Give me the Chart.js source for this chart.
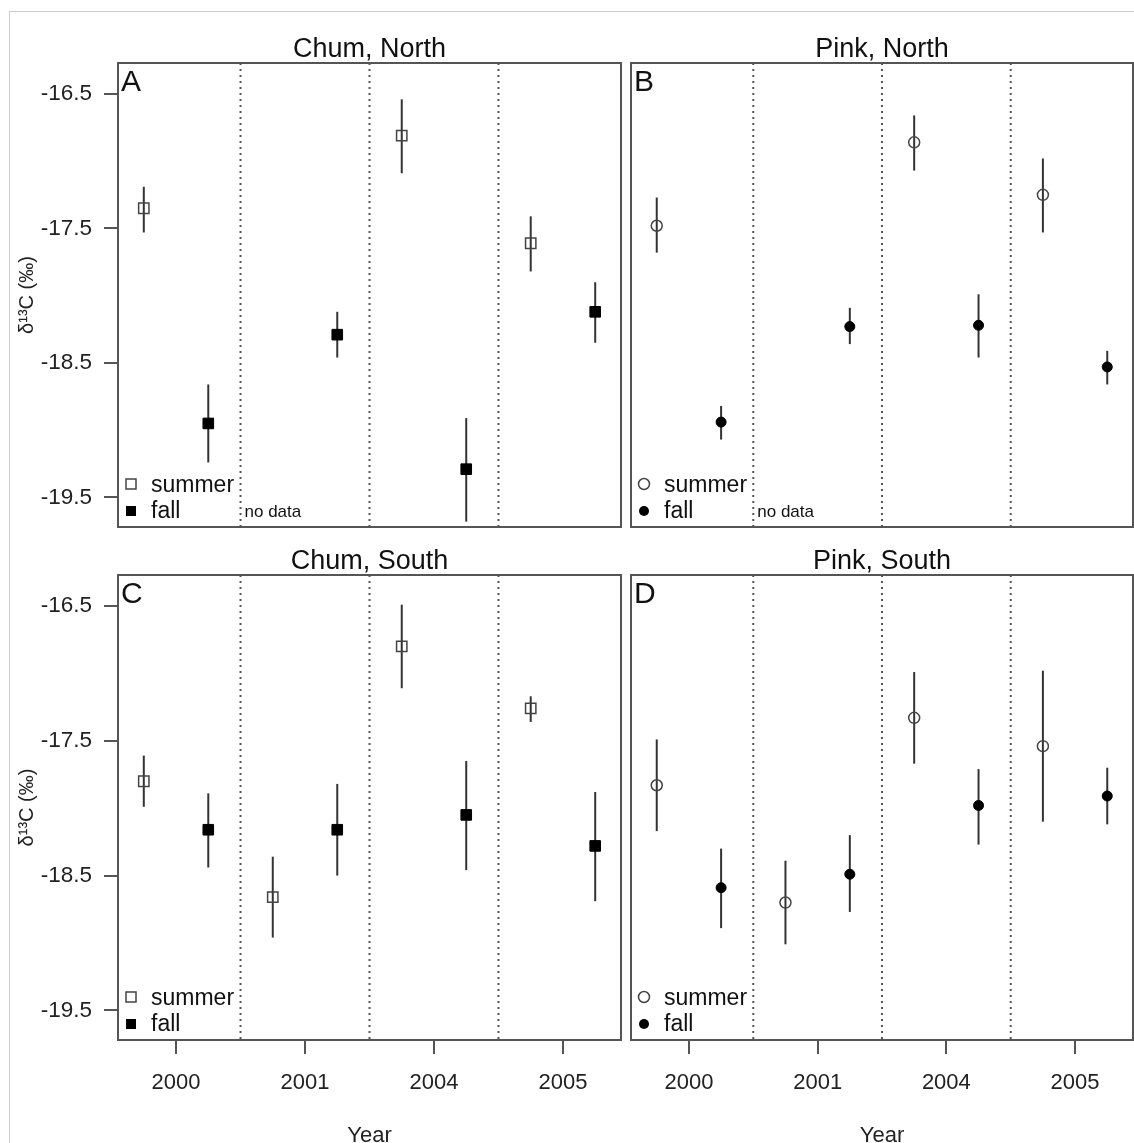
<!DOCTYPE html>
<html>
<head>
<meta charset="utf-8">
<script src="https://cdn.jsdelivr.net/npm/chart.js@4.4.0/dist/chart.umd.min.js"></script>
<style>
body{margin:0;width:1134px;height:1143px;overflow:hidden;background:#fff;position:relative}
#frame{position:absolute;left:9px;top:11px;right:0;bottom:0;border-left:1px solid #ccc;border-top:1px solid #ccc}
canvas{position:absolute}
</style>
</head>
<body>
<div id="frame"></div>
<canvas id="chumNorth" width="626" height="540" style="left:0;top:0"></canvas>
<canvas id="pinkNorth" width="508" height="540" style="left:626px;top:0"></canvas>
<canvas id="chumSouth" width="626" height="620" style="left:0;top:540px"></canvas>
<canvas id="pinkSouth" width="508" height="620" style="left:626px;top:540px"></canvas>
<script>
var years = ['2000', '2001', '2004', '2005'];
var yTicks = [-16.5, -17.5, -18.5, -19.5];
var dividers = [1.5, 2.5, 3.5];

// A - chum, north (no summer sample in 2001)
var chumNorthSummer   = [-17.35, null, -16.81, -17.61];
var chumNorthSummerLo = [-17.53, null, -17.09, -17.82];
var chumNorthSummerHi = [-17.19, null, -16.54, -17.41];
var chumNorthFall     = [-18.95, -18.29, -19.29, -18.12];
var chumNorthFallLo   = [-19.24, -18.46, -19.68, -18.35];
var chumNorthFallHi   = [-18.66, -18.12, -18.91, -17.90];

// B - pink, north
var pinkNorthSummer   = [-17.48, null, -16.86, -17.25];
var pinkNorthSummerLo = [-17.68, null, -17.07, -17.53];
var pinkNorthSummerHi = [-17.27, null, -16.66, -16.98];
var pinkNorthFall     = [-18.94, -18.23, -18.22, -18.53];
var pinkNorthFallLo   = [-19.07, -18.36, -18.46, -18.66];
var pinkNorthFallHi   = [-18.82, -18.09, -17.99, -18.41];

// C - chum, south
var chumSouthSummer   = [-17.80, -18.66, -16.80, -17.26];
var chumSouthSummerLo = [-17.99, -18.96, -17.11, -17.36];
var chumSouthSummerHi = [-17.61, -18.36, -16.49, -17.17];
var chumSouthFall     = [-18.16, -18.16, -18.05, -18.28];
var chumSouthFallLo   = [-18.44, -18.50, -18.46, -18.69];
var chumSouthFallHi   = [-17.89, -17.82, -17.65, -17.88];

// D - pink, south
var pinkSouthSummer   = [-17.83, -18.70, -17.33, -17.54];
var pinkSouthSummerLo = [-18.17, -19.01, -17.67, -18.10];
var pinkSouthSummerHi = [-17.49, -18.39, -16.99, -16.98];
var pinkSouthFall     = [-18.59, -18.49, -17.98, -17.91];
var pinkSouthFallLo   = [-18.89, -18.77, -18.27, -18.12];
var pinkSouthFallHi   = [-18.30, -18.20, -17.71, -17.70];

var FONT = '"Liberation Sans", Arial, Helvetica, sans-serif';
var INK = '#111';
Chart.defaults.font.family = FONT;

function points(vals, off) {
    return vals.map(function (v, i) { return {x: i + 1 + off, y: v}; });
}

function marker(ctx, shape, filled, x, y) {
    ctx.beginPath();
    if (shape == 'rect') {
        ctx.rect(x - 5, y - 5, 10, 10);
    } else {
        ctx.arc(x, y, filled ? 5 : 5.5, 0, Math.PI * 2);
    }
    if (filled) { ctx.fillStyle = '#000'; ctx.fill(); }
    else { ctx.strokeStyle = '#444'; ctx.lineWidth = 1.5; ctx.stroke(); }
}

//dotted year dividers, error bars, frame and the text inside each panel
var panelDecor = {
    id: 'panelDecor',
    beforeDatasetsDraw: function (chart, args, opts) {
        var ctx = chart.ctx, a = chart.chartArea;
        var xs = chart.scales.x, ys = chart.scales.y;
        ctx.save();
        ctx.strokeStyle = '#555';
        ctx.lineWidth = 2;
        ctx.setLineDash([2, 4]);
        dividers.forEach(function (d) {
            var px = xs.getPixelForValue(d);
            ctx.beginPath(); ctx.moveTo(px, a.top); ctx.lineTo(px, a.bottom); ctx.stroke();
        });
        ctx.setLineDash([]);
        ctx.strokeStyle = '#333';
        ctx.lineWidth = 2;
        opts.bars.forEach(function (b) {
            b.lo.forEach(function (lo, i) {
                if (lo == null) return;
                var px = xs.getPixelForValue(i + 1 + b.off);
                ctx.beginPath();
                ctx.moveTo(px, ys.getPixelForValue(lo));
                ctx.lineTo(px, ys.getPixelForValue(b.hi[i]));
                ctx.stroke();
            });
        });
        ctx.restore();
    },
    afterDatasetsDraw: function (chart, args, opts) {
        var ctx = chart.ctx, a = chart.chartArea, xs = chart.scales.x;
        ctx.save();
        ctx.strokeStyle = '#555';
        ctx.lineWidth = 2;
        ctx.strokeRect(a.left, a.top, a.right - a.left, a.bottom - a.top);

        ctx.fillStyle = INK;
        ctx.textBaseline = 'middle';
        ctx.textAlign = 'center';
        ctx.font = '27px ' + FONT;
        ctx.fillText(opts.title, (a.left + a.right) / 2, a.top - 13);

        ctx.textAlign = 'left';
        ctx.font = '30px ' + FONT;
        ctx.fillText(opts.letter, a.left + 3, a.top + 20);

        marker(ctx, opts.shape, false, a.left + 13, a.bottom - 43);
        marker(ctx, opts.shape, true, a.left + 13, a.bottom - 16);
        ctx.fillStyle = INK;
        ctx.font = '23px ' + FONT;
        ctx.fillText('summer', a.left + 33, a.bottom - 41);
        ctx.fillText('fall', a.left + 33, a.bottom - 15);

        if (opts.noData) {
            ctx.font = '17px ' + FONT;
            ctx.fillText('no data', xs.getPixelForValue(dividers[0]) + 4, a.bottom - 15);
        }
        ctx.restore();
    }
};

function makePanel(id, title, letter, shape, summer, sLo, sHi, fall, fLo, fHi, left, bottom, noData) {
    var yAxis = {
        type: 'linear', min: -19.72, max: -16.27,
        display: left,
        afterBuildTicks: function (s) { s.ticks = yTicks.map(function (v) { return {value: v}; }); },
        afterFit: function (s) {
            if (left) s.width = 118;
            s.paddingTop = 0;
            s.paddingBottom = 0;
        },
        border: {display: false},
        grid: {drawOnChartArea: false, tickLength: 14, color: '#555', lineWidth: 2},
        ticks: {font: {size: 22.5}, color: '#222', padding: 12, callback: function (v) { return v.toFixed(1); }},
        title: {display: true, text: 'δ¹³C (‰)', font: {size: 20}, color: '#222', padding: {top: 15}}
    };
    var xAxis = {
        type: 'linear', min: 0.55, max: 4.45,
        display: bottom,
        afterBuildTicks: function (s) { s.ticks = years.map(function (y, i) { return {value: i + 1}; }); },
        afterFit: function (s) {
            if (bottom) s.height = 120;
            s.paddingLeft = 0;
            s.paddingRight = 0;
        },
        border: {display: false},
        grid: {drawOnChartArea: false, tickLength: 14, color: '#555', lineWidth: 2},
        ticks: {font: {size: 22}, color: '#222', padding: 16, maxRotation: 0, autoSkip: false,
                callback: function (v) { return years[v - 1]; }},
        title: {display: true, text: 'Year', font: {size: 22}, color: '#222', padding: {bottom: 11}}
    };
    var rect = shape == 'rect';
    return new Chart(document.getElementById(id).getContext('2d'), {
        type: 'scatter',
        data: {
            datasets: [{
                label: 'summer',
                data: points(summer, -0.25),
                pointStyle: shape,
                pointRadius: rect ? 7.3 : 5.5,
                borderColor: '#444',
                borderWidth: 1.5,
                backgroundColor: 'rgba(0,0,0,0)'
            }, {
                label: 'fall',
                data: points(fall, 0.25),
                pointStyle: shape,
                pointRadius: rect ? 7.5 : 5,
                borderColor: '#000',
                borderWidth: 1,
                backgroundColor: '#000'
            }]
        },
        options: {
            responsive: false,
            animation: false,
            layout: {
                autoPadding: false,
                padding: {left: left ? 0 : 5, right: left ? 5 : 1, top: bottom ? 35 : 63, bottom: bottom ? 0 : 13}
            },
            scales: {x: xAxis, y: yAxis},
            plugins: {
                legend: {display: false},
                tooltip: {enabled: false},
                panelDecor: {
                    title: title, letter: letter, shape: shape, noData: noData,
                    bars: [{off: -0.25, lo: sLo, hi: sHi}, {off: 0.25, lo: fLo, hi: fHi}]
                }
            }
        },
        plugins: [panelDecor]
    });
}

makePanel('chumNorth', 'Chum, North', 'A', 'rect', chumNorthSummer, chumNorthSummerLo, chumNorthSummerHi,
          chumNorthFall, chumNorthFallLo, chumNorthFallHi, true, false, true);
makePanel('pinkNorth', 'Pink, North', 'B', 'circle', pinkNorthSummer, pinkNorthSummerLo, pinkNorthSummerHi,
          pinkNorthFall, pinkNorthFallLo, pinkNorthFallHi, false, false, true);
makePanel('chumSouth', 'Chum, South', 'C', 'rect', chumSouthSummer, chumSouthSummerLo, chumSouthSummerHi,
          chumSouthFall, chumSouthFallLo, chumSouthFallHi, true, true, false);
makePanel('pinkSouth', 'Pink, South', 'D', 'circle', pinkSouthSummer, pinkSouthSummerLo, pinkSouthSummerHi,
          pinkSouthFall, pinkSouthFallLo, pinkSouthFallHi, false, true, false);
</script>
</body>
</html>
